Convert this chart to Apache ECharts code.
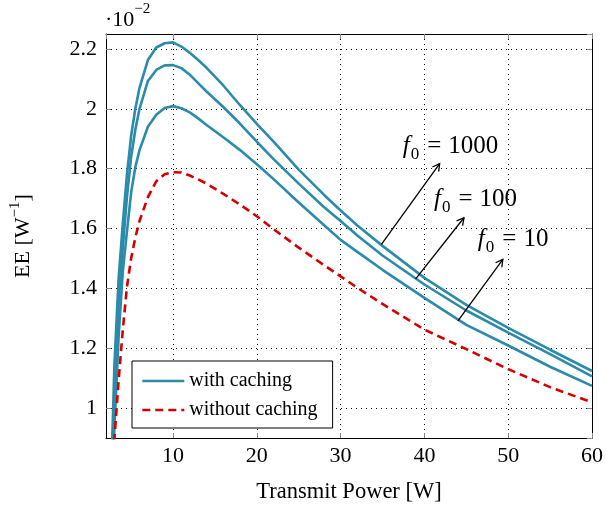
<!DOCTYPE html>
<html><head><meta charset="utf-8">
<script src="https://cdn.jsdelivr.net/npm/echarts@6/dist/echarts.min.js"></script>
<style>html,body{margin:0;padding:0;background:#fff}#c{width:606px;height:509px}</style>
</head><body><div id="c"></div>
<script>
// Transmit power [W]
const power = [2.5, 3, 3.5, 4, 4.5, 5, 5.5, 6, 7, 8, 9, 10, 11, 12, 13, 14, 16, 18, 20, 22, 25, 28, 30, 32, 35, 40, 45, 50, 55, 60];
// EE (x 10^-2) with caching, f0 = 1000 / 100 / 10
const eeF1000 = [0.66, 1.14, 1.43, 1.615, 1.78, 1.91, 2.0, 2.07, 2.163, 2.205, 2.219, 2.222, 2.208, 2.187, 2.163, 2.137, 2.078, 2.012, 1.95, 1.89, 1.797, 1.713, 1.66, 1.61, 1.542, 1.435, 1.345, 1.268, 1.195, 1.124];
const eeF100  = [0.62, 1.04, 1.35, 1.535, 1.705, 1.84, 1.93, 2.0, 2.093, 2.13, 2.145, 2.146, 2.136, 2.114, 2.086, 2.058, 2.006, 1.95, 1.89, 1.832, 1.75, 1.672, 1.625, 1.577, 1.51, 1.413, 1.326, 1.252, 1.18, 1.106];
const eeF10   = [0.66, 0.93, 1.235, 1.455, 1.59, 1.72, 1.805, 1.862, 1.94, 1.98, 2.003, 2.009, 2.002, 1.988, 1.968, 1.946, 1.905, 1.862, 1.815, 1.765, 1.687, 1.612, 1.562, 1.522, 1.462, 1.368, 1.278, 1.209, 1.138, 1.074];
// EE without caching
const eeNoCache = [0.67, 0.895, 1.09, 1.26, 1.405, 1.5, 1.57, 1.625, 1.705, 1.758, 1.781, 1.788, 1.787, 1.777, 1.764, 1.75, 1.716, 1.68, 1.641, 1.598, 1.536, 1.478, 1.44, 1.402, 1.348, 1.262, 1.197, 1.13, 1.07, 1.019];

const legendNames = ['with caching', 'without caching'];
const f0Values = ['1000', '100', '10'];
// annotation arrows in data coordinates: [fromX, fromY, toX, toY]
const arrowCoords = [[34.87, 1.547, 41.82, 1.817], [38.96, 1.432, 44.72, 1.636], [44.0, 1.291, 49.36, 1.497]];
// annotation label anchors (left, middle) in data coordinates
const labelCoords = [[37.41, 1.88], [41.14, 1.703], [46.38, 1.569]];

const serif = '"Liberation Serif","DejaVu Serif",serif';
const blue = '#2A8BAA', red = '#D40000';
const pairs = ys => power.map((x, i) => [x, ys[i]]);

const chart = echarts.init(document.getElementById('c'));

function blueSeries(ys) {
  return {type: 'line', name: legendNames[0], data: pairs(ys), symbol: 'none', showSymbol: false,
    clip: true, lineStyle: {color: blue, width: 2.6}, itemStyle: {color: blue}, z: 3};
}

const axisLineStyle = {show: true, onZero: false, lineStyle: {color: '#000', width: 1}};
const tickStyle = {show: true, inside: true, length: 5, lineStyle: {color: '#888', width: 1}};
const gridLine = {show: true, lineStyle: {color: '#000', width: 1, type: [1, 4]}};

chart.setOption({
  animation: false,
  backgroundColor: '#fff',
  grid: {left: 106, right: 13.5, top: 34, bottom: 70},
  legend: {
    data: legendNames, orient: 'vertical', left: 132, top: 361,
    padding: [10, 15, 8, 9], itemGap: 9, itemWidth: 42, itemHeight: 14,
    backgroundColor: '#fff', borderColor: '#000', borderWidth: 1,
    itemStyle: {opacity: 0},
    lineStyle: {width: 2.6},
    textStyle: {fontFamily: serif, fontSize: 20, color: '#000'}
  },
  xAxis: [
    {type: 'value', min: 2, max: 60, splitNumber: 6, position: 'bottom',
      axisLine: axisLineStyle, axisTick: tickStyle, splitLine: gridLine,
      axisLabel: {showMinLabel: false, color: '#000', fontFamily: serif, fontSize: 22, margin: 7},
      name: 'Transmit Power [W]', nameLocation: 'middle', nameGap: 43,
      nameTextStyle: {fontFamily: serif, fontSize: 22.5, color: '#000'}},
    {type: 'value', min: 2, max: 60, splitNumber: 6, position: 'top',
      axisLine: axisLineStyle, axisTick: tickStyle, axisLabel: {show: false}, splitLine: {show: false}}
  ],
  yAxis: [
    {type: 'value', min: 0.9, max: 2.25, splitNumber: 7, position: 'left',
      axisLine: axisLineStyle, axisTick: tickStyle, splitLine: gridLine,
      axisLabel: {showMinLabel: false, showMaxLabel: false, color: '#000', fontFamily: serif, fontSize: 22, margin: 9},
      name: '{a|EE [W}{s|−1}{a|]}', nameLocation: 'middle', nameGap: 72, nameRotate: 90,
      nameTextStyle: {fontFamily: serif, fontSize: 22, color: '#000',
        rich: {a: {fontFamily: serif, fontSize: 22, color: '#000', lineHeight: 26, verticalAlign: 'bottom'},
               s: {fontFamily: serif, fontSize: 15, color: '#000', lineHeight: 26, verticalAlign: 'top'}}}},
    {type: 'value', min: 0.9, max: 2.25, splitNumber: 7, position: 'right',
      axisLine: axisLineStyle, axisTick: tickStyle, axisLabel: {show: false}, splitLine: {show: false}}
  ],
  series: [
    blueSeries(eeF1000),
    blueSeries(eeF100),
    blueSeries(eeF10),
    {type: 'line', name: legendNames[1], data: pairs(eeNoCache), symbol: 'none', showSymbol: false,
      clip: true, lineStyle: {color: red, width: 2.6, type: [8, 5]}, itemStyle: {color: red}, z: 3}
  ]
});

// annotations: arrows + labels positioned through the chart's own scales
const elements = [];
arrowCoords.forEach(a => {
  const p1 = chart.convertToPixel({gridIndex: 0}, [a[0], a[1]]);
  const p2 = chart.convertToPixel({gridIndex: 0}, [a[2], a[3]]);
  const ang = Math.atan2(p2[1] - p1[1], p2[0] - p1[0]);
  const L = 8, w = 0.5;
  const h1 = [p2[0] - L * Math.cos(ang - w), p2[1] - L * Math.sin(ang - w)];
  const h2 = [p2[0] - L * Math.cos(ang + w), p2[1] - L * Math.sin(ang + w)];
  elements.push({type: 'line', shape: {x1: p1[0], y1: p1[1], x2: p2[0], y2: p2[1]},
    style: {stroke: '#000', lineWidth: 1.3}, z: 10});
  elements.push({type: 'polyline', shape: {points: [h1, p2, h2]},
    style: {stroke: '#000', lineWidth: 1.3, fill: null}, z: 10});
});
labelCoords.forEach((c, i) => {
  const p = chart.convertToPixel({gridIndex: 0}, c);
  elements.push({type: 'text', x: p[0], y: p[1], z: 11,
    style: {text: '{f|f}{s|0}{e|=}{n|' + f0Values[i] + '}', verticalAlign: 'middle', align: 'left',
      rich: {f: {fontFamily: serif, fontStyle: 'italic', fontSize: 25, lineHeight: 28, verticalAlign: 'bottom', fill: '#000'},
             s: {fontFamily: serif, fontSize: 17, lineHeight: 28, verticalAlign: 'bottom', fill: '#000', padding: [0, 0, -4, 1]},
             e: {fontFamily: serif, fontSize: 25, lineHeight: 28, verticalAlign: 'bottom', fill: '#000', padding: [0, 7, 0, 8]},
             n: {fontFamily: serif, fontSize: 25, lineHeight: 28, verticalAlign: 'bottom', fill: '#000'}}}});
});
elements.push({type: 'text', left: 105, top: 2, z: 11,
  style: {text: '{a|·10}{s|−2}',
    rich: {a: {fontFamily: serif, fontSize: 22, lineHeight: 29, verticalAlign: 'bottom', fill: '#000'},
           s: {fontFamily: serif, fontSize: 15, lineHeight: 29, verticalAlign: 'top', fill: '#000'}}}});
chart.setOption({graphic: elements});
</script>
</body></html>
